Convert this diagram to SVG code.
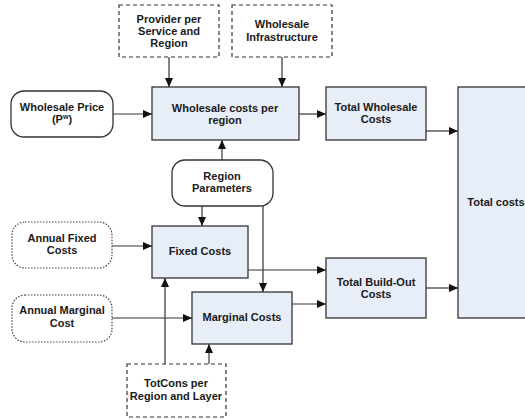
<svg xmlns="http://www.w3.org/2000/svg" width="525" height="420" viewBox="0 0 525 420">
  <defs>
    <marker id="arrow" markerWidth="9" markerHeight="8" refX="9" refY="4" orient="auto" markerUnits="userSpaceOnUse">
      <path d="M0,0 L9,4 L0,8 Z" fill="#111"/>
    </marker>
  </defs>
  <style>
    text { font-family: "Liberation Sans", Arial, sans-serif; font-size: 11px; font-weight: bold; fill: #1a1a1a; text-anchor: middle; }
    .proc { fill: #e8eef8; stroke: #333; stroke-width: 1.3; }
    .input { fill: #fff; stroke: #333; stroke-width: 1.3; }
    .dotted { fill: #fff; stroke: #444; stroke-width: 1.2; stroke-dasharray: 1.5 1.5; }
    .dashed { fill: #fff; stroke: #333; stroke-width: 1.2; stroke-dasharray: 4 3; }
    .link { fill: none; stroke: #333; stroke-width: 1.2; }
    .arr { marker-end: url(#arrow); }
  </style>

  <!-- connectors -->
  <g id="connectors">
    <line class="link arr" x1="169" y1="57" x2="169" y2="87"/>
    <line class="link arr" x1="282" y1="57" x2="282" y2="87"/>
    <line class="link arr" x1="113" y1="114" x2="152" y2="114"/>
    <line class="link arr" x1="299" y1="114" x2="326" y2="114"/>
    <line class="link arr" x1="426" y1="131" x2="458" y2="131"/>
    <line class="link arr" x1="222" y1="160" x2="222" y2="140"/>
    <line class="link arr" x1="202" y1="206" x2="202" y2="226"/>
    <line class="link arr" x1="263" y1="206" x2="263" y2="292"/>
    <line class="link arr" x1="112" y1="246" x2="152" y2="246"/>
    <line class="link arr" x1="248" y1="270" x2="326" y2="270"/>
    <line class="link arr" x1="112" y1="318" x2="192" y2="318"/>
    <line class="link arr" x1="292" y1="304" x2="326" y2="304"/>
    <line class="link arr" x1="426" y1="288" x2="458" y2="288"/>
    <line class="link arr" x1="165" y1="364" x2="165" y2="278"/>
    <line class="link arr" x1="209" y1="364" x2="209" y2="344"/>
  </g>

  <g id="provider">
    <rect class="dashed" x="119" y="5" width="100" height="52"/>
    <text x="169" y="23">Provider per</text>
    <text x="169" y="35">Service and</text>
    <text x="169" y="47">Region</text>
  </g>

  <g id="wholesale-infra">
    <rect class="dashed" x="232" y="5" width="100" height="52"/>
    <text x="282" y="28">Wholesale</text>
    <text x="282" y="41">Infrastructure</text>
  </g>

  <g id="wholesale-price">
    <rect class="input" x="11" y="91" width="102" height="46" rx="13"/>
    <text x="62" y="111">Wholesale Price</text>
    <text x="62" y="123">(P<tspan font-size="7" dy="-4">w</tspan><tspan dy="4">)</tspan></text>
  </g>

  <g id="wholesale-costs">
    <rect class="proc" x="152" y="87" width="147" height="53"/>
    <text x="225" y="112">Wholesale costs per</text>
    <text x="225" y="124">region</text>
  </g>

  <g id="total-wholesale">
    <rect class="proc" x="326" y="87" width="100" height="53"/>
    <text x="376" y="111">Total Wholesale</text>
    <text x="376" y="123">Costs</text>
  </g>

  <g id="total-costs">
    <rect class="proc" x="458" y="87" width="78" height="231"/>
    <text x="496" y="206">Total costs</text>
  </g>

  <g id="region-params">
    <rect class="input" x="172" y="160" width="101" height="46" rx="13"/>
    <text x="222" y="180">Region</text>
    <text x="222" y="192">Parameters</text>
  </g>

  <g id="annual-fixed">
    <rect class="dotted" x="12" y="222" width="100" height="46" rx="13"/>
    <text x="62" y="242">Annual Fixed</text>
    <text x="62" y="254">Costs</text>
  </g>

  <g id="fixed-costs">
    <rect class="proc" x="152" y="226" width="96" height="52"/>
    <text x="200" y="255">Fixed Costs</text>
  </g>

  <g id="total-buildout">
    <rect class="proc" x="326" y="258" width="100" height="60"/>
    <text x="376" y="286">Total Build-Out</text>
    <text x="376" y="298">Costs</text>
  </g>

  <g id="annual-marginal">
    <rect class="dotted" x="12" y="295" width="100" height="47" rx="13"/>
    <text x="62" y="314">Annual Marginal</text>
    <text x="62" y="327">Cost</text>
  </g>

  <g id="marginal-costs">
    <rect class="proc" x="192" y="292" width="100" height="52"/>
    <text x="242" y="321">Marginal Costs</text>
  </g>

  <g id="totcons">
    <rect class="dashed" x="127" y="364" width="99" height="53"/>
    <text x="176" y="387">TotCons per</text>
    <text x="176" y="400">Region and Layer</text>
  </g>
</svg>
